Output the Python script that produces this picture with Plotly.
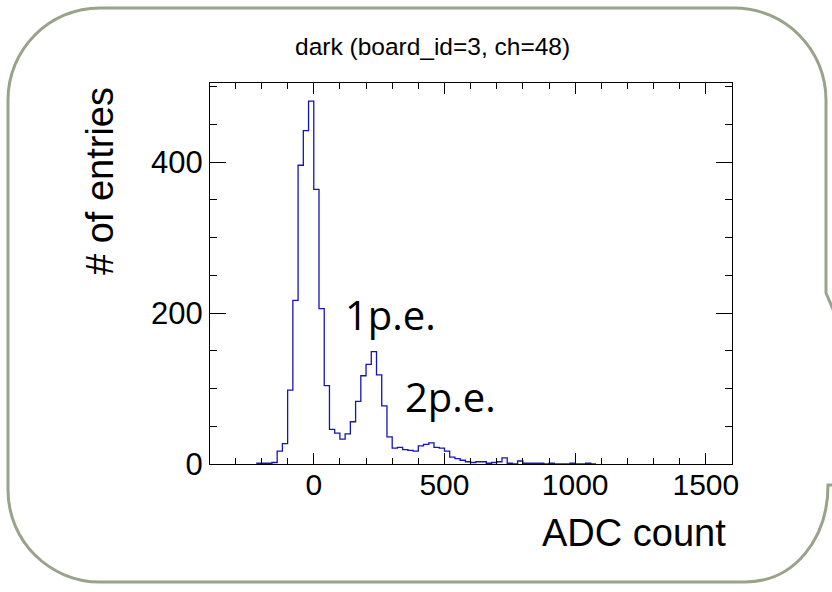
import plotly.graph_objects as go

# ---- data ----
bin_start = -220
bin_width = 20
counts = [1, 1, 1, 2, 17, 27, 98, 217, 396, 442, 481, 364, 206, 104, 46, 41, 33, 40,
          56, 83, 117, 132, 149, 118, 77, 36, 21, 22, 19, 18, 17, 24, 26, 28, 22, 21,
          17, 9, 7, 5, 3, 2, 3, 3, 1, 2, 3, 8, 1, 0, 4, 1, 1, 1, 1, 0, 1, 0, 0, 0,
          1, 0, 0, 1, 0]
x_tickvals = [0, 500, 1000, 1500]
y_tickvals = [0, 200, 400]
title_text = "dark (board_id=3, ch=48)"
x_title = "ADC count"
y_title = "# of entries"
peak_labels = ["1p.e.", "2p.e."]

edges = [bin_start + i * bin_width for i in range(len(counts) + 1)]
ys = counts + [counts[-1]]

W, H = 832, 592
L, R, T, B = 210, 100, 83, 128
PW, PH = W - L - R, H - T - B


def px(x):
    return (x - L) / PW


def py(y):
    return (H - B - y) / PH


fig = go.Figure()
fig.add_trace(go.Scatter(
    x=edges, y=ys, mode="lines", line_shape="hv",
    line=dict(color="rgb(20,20,185)", width=1.3),
    hoverinfo="skip", showlegend=False,
))

ROOT_FONT = "Liberation Sans, Arial, Helvetica, sans-serif"

fig.update_xaxes(
    range=[-397, 1600], tickvals=x_tickvals, ticks="inside", ticklen=11,
    tickcolor="black", tickwidth=1, showline=True, linecolor="black", linewidth=1,
    mirror="allticks", showgrid=False, zeroline=False, ticklabelstandoff=-6,
    tickfont=dict(family=ROOT_FONT, size=30, color="black"),
    minor=dict(dtick=100, tick0=0, ticks="inside", ticklen=6, tickcolor="black", showgrid=False),
)
fig.update_yaxes(
    range=[0, 505], tickvals=y_tickvals, ticks="inside", ticklen=16,
    tickcolor="black", tickwidth=1, showline=True, linecolor="black", linewidth=1,
    mirror="allticks", showgrid=False, zeroline=False,
    tickfont=dict(family=ROOT_FONT, size=31, color="black"),
    minor=dict(dtick=50, tick0=0, ticks="inside", ticklen=7, tickcolor="black", showgrid=False),
)

# rounded outer box (slide frame)
k = 0.5523
r = 92


def P(x, y):
    return f"{px(x):.5f},{py(y):.5f}"


path = (
    f"M {P(8, 490)} L {P(8, 100)} "
    f"C {P(8, 100 - r*k)} {P(100 - r*k, 8)} {P(100, 8)} "
    f"L {P(734, 8)} "
    f"C {P(734 + r*k, 8)} {P(826, 100 - r*k)} {P(826, 100)} "
    f"L {P(826, 293)} L {P(842, 330)} L {P(842, 485)} L {P(828, 485)} "
    f"C {P(828, 538)} {P(795, 582)} {P(745, 582)} "
    f"L {P(100, 582)} "
    f"C {P(100 - r*k, 582)} {P(8, 490 + r*k)} {P(8, 490)}"
)
fig.add_shape(type="path", path=path, xref="paper", yref="paper",
              line=dict(color="rgb(152,163,138)", width=3), layer="below")

# title
fig.add_annotation(text=title_text, x=px(432), y=py(47), xref="paper", yref="paper",
                   xanchor="center", yanchor="middle", showarrow=False,
                   font=dict(family=ROOT_FONT, size=24.5, color="black"))
# axis titles
fig.add_annotation(text=x_title, x=px(728), y=py(533), xref="paper", yref="paper",
                   xanchor="right", yanchor="middle", showarrow=False,
                   font=dict(family=ROOT_FONT, size=38, color="black"))
fig.add_annotation(text=y_title, x=px(100), y=py(181), xref="paper", yref="paper",
                   xanchor="center", yanchor="middle", showarrow=False, textangle=-90,
                   font=dict(family=ROOT_FONT, size=38, color="black"))
# peak labels
fig.add_annotation(text=peak_labels[0], x=px(343), y=py(314), xref="paper", yref="paper",
                   xanchor="left", yanchor="middle", showarrow=False,
                   font=dict(family="Open Sans, sans-serif", size=40, color="black"))
fig.add_annotation(text=peak_labels[1], x=px(403), y=py(396), xref="paper", yref="paper",
                   xanchor="left", yanchor="middle", showarrow=False,
                   font=dict(family="Open Sans, sans-serif", size=40, color="black"))

fig.update_layout(
    width=W, height=H, margin=dict(l=L, r=R, t=T, b=B),
    paper_bgcolor="white", plot_bgcolor="white", showlegend=False,
)

fig.write_html("out.html")
